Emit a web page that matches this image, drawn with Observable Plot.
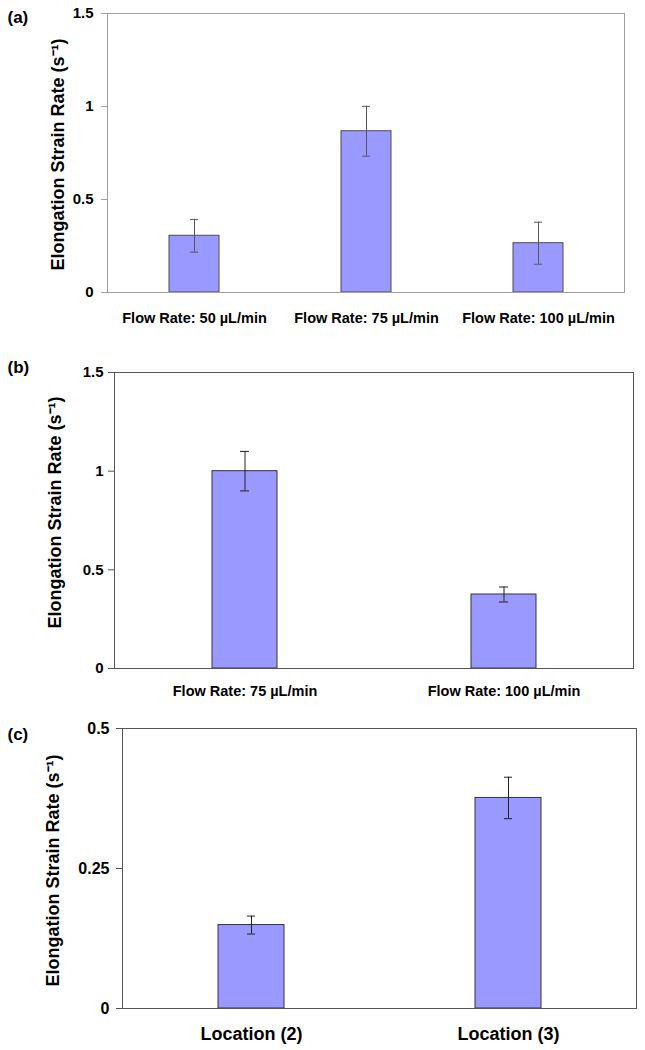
<!DOCTYPE html>
<html>
<head>
<meta charset="utf-8">
<script src="https://cdn.jsdelivr.net/npm/d3@7"></script>
<script src="https://cdn.jsdelivr.net/npm/@observablehq/plot@0.6"></script>
<style>
  html, body { margin: 0; padding: 0; background: #fff; }
  #chart { width: 645px; }
  #chart svg { display: block; }
</style>
</head>
<body>
<div id="chart"></div>
<script>
// ---- Data ----
const catsA = ["Flow Rate: 50 µL/min", "Flow Rate: 75 µL/min", "Flow Rate: 100 µL/min"];
const valsA = [0.305, 0.867, 0.265];
const errsA = [0.088, 0.134, 0.113];

const catsB = ["Flow Rate: 75 µL/min", "Flow Rate: 100 µL/min"];
const valsB = [1.0, 0.375];
const errsB = [0.1, 0.038];

const catsC = ["Location (2)", "Location (3)"];
const valsC = [0.149, 0.376];
const errsC = [0.016, 0.037];

const ticksAB = [0, 0.5, 1, 1.5];
const ticksC = [0, 0.25, 0.5];

const yTitle = "Elongation Strain Rate (s⁻¹)";
const FONT = "'Liberation Sans', Arial, Helvetica, sans-serif";

function rows(cats, vals, errs) {
  return cats.map((c, i) => ({cat: c, value: vals[i], err: errs[i]}));
}

function panel(o) {
  const data = rows(o.cats, o.vals, o.errs);
  return Plot.plot({
    width: 645,
    height: o.height,
    marginTop: o.mt, marginBottom: o.mb, marginLeft: o.ml, marginRight: o.mr,
    style: {fontFamily: FONT, fontWeight: "bold", color: "black", background: "white"},
    x: {domain: o.cats, paddingInner: o.pad, paddingOuter: o.pad / 2, label: null},
    y: {domain: o.ydomain, label: null},
    marks: [
      Plot.barY(data, {x: "cat", y: "value", fill: "#9999ff", stroke: o.barStroke, strokeWidth: 1}),
      Plot.ruleX(data, {x: "cat", y1: d => d.value - d.err, y2: d => d.value + d.err, stroke: o.errStroke, strokeWidth: 1}),
      Plot.tickY(data, {x: "cat", y: d => d.value + d.err, stroke: o.errStroke, insetLeft: o.capInset, insetRight: o.capInset}),
      Plot.tickY(data, {x: "cat", y: d => d.value - d.err, stroke: o.errStroke, insetLeft: o.capInset, insetRight: o.capInset}),
      Plot.frame({stroke: o.frameStroke}),
      Plot.axisY({ticks: o.yticks, tickFormat: d => String(d), tickSize: 6, tickPadding: o.ytp,
                  fontSize: o.yfs, stroke: o.frameStroke, fill: "black", label: null}),
      Plot.axisX({tickSize: 0, tickPadding: o.xtp, fontSize: o.xfs, fill: "black", label: null}),
      Plot.text([yTitle], {frameAnchor: "left", rotate: -90, textAnchor: "middle", lineAnchor: "bottom",
                           dx: o.tdx, dy: o.tdy, fontSize: 18, fontWeight: "bold", fill: "black"}),
      Plot.text([o.letter], {frameAnchor: "top-left", textAnchor: "start", lineAnchor: "middle",
                             dx: 7 - o.ml, dy: o.ldy, fontSize: 17, fontWeight: "bold", fill: "black"})
    ]
  });
}

const chart = document.getElementById("chart");

chart.append(panel({
  cats: catsA, vals: valsA, errs: errsA, ydomain: [0, 1.5], yticks: ticksAB,
  height: 340, mt: 13, mb: 48, ml: 107, mr: 21, pad: 0.71,
  barStroke: "#4a4a5a", errStroke: "#555", frameStroke: "#a0a0a0", capInset: 21,
  ytp: 8, yfs: 15, xtp: 20, xfs: 14.5, tdx: -44, tdy: 1.5, letter: "(a)", ldy: 4.5
}));

chart.append(panel({
  cats: catsB, vals: valsB, errs: errsB, ydomain: [0, 1.5], yticks: ticksAB,
  height: 365, mt: 32, mb: 37, ml: 114, mr: 12, pad: 0.75,
  barStroke: "#333344", errStroke: "#222", frameStroke: "#555", capInset: 28,
  ytp: 5, yfs: 15, xtp: 17, xfs: 14.5, tdx: -54, tdy: -8, letter: "(b)", ldy: -5
}));

chart.append(panel({
  cats: catsC, vals: valsC, errs: errsC, ydomain: [0, 0.5], yticks: ticksC,
  height: 345, mt: 23, mb: 42, ml: 122, mr: 9, pad: 0.745,
  barStroke: "#333344", errStroke: "#222", frameStroke: "#555", capInset: 29,
  ytp: 7, yfs: 16, xtp: 18.5, xfs: 18, tdx: -64, tdy: 2, letter: "(c)", ldy: 6
}));
</script>
</body>
</html>
